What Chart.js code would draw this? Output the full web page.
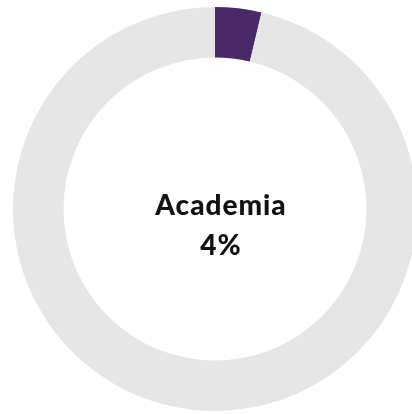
<!DOCTYPE html>
<html>
<head>
<meta charset="utf-8">
<script src="https://cdn.jsdelivr.net/npm/chart.js@4.4.0/dist/chart.umd.min.js"></script>
<style>
  html, body { margin: 0; padding: 0; background: #ffffff; overflow: hidden; }
  body { width: 412px; height: 414px; position: relative; }
  .chart-box { position: absolute; left: 13px; top: 7px; width: 404px; height: 404px; }
  .center-label {
    position: absolute; left: 19px; top: 184px; width: 404px;
    text-align: center;
    font-family: Lato, "Open Sans", sans-serif; font-weight: 900; font-size: 28px;
    letter-spacing: 1px;
    color: #111111; line-height: 40px; pointer-events: none;
  }
</style>
</head>
<body>
<div class="chart-box"><canvas id="main-chart"></canvas></div>
<div class="center-label">
  <div id="label-name"></div>
  <div id="label-pct"></div>
</div>
<script>
const labels = ["Academia", "Other"];
const values = [3.7, 96.3];
const colors = ["#4a2969", "#e6e6e6"];

document.getElementById("label-name").textContent = labels[0];
document.getElementById("label-pct").textContent = Math.round(values[0]) + "%";

const ctx = document.getElementById("main-chart").getContext("2d");

window.donut = new Chart(ctx, {
  type: "doughnut",
  data: {
    labels: labels,
    datasets: [
      {
        data: values,
        backgroundColor: colors,
        borderWidth: 0,
        hoverOffset: 0,
      },
    ],
  },
  options: {
    responsive: true,
    maintainAspectRatio: false,
    animation: false,
    cutout: "75%",
    layout: { padding: 0 },
    plugins: {
      legend: { display: false },
      tooltip: { enabled: false },
    },
  },
});
</script>
</body>
</html>
